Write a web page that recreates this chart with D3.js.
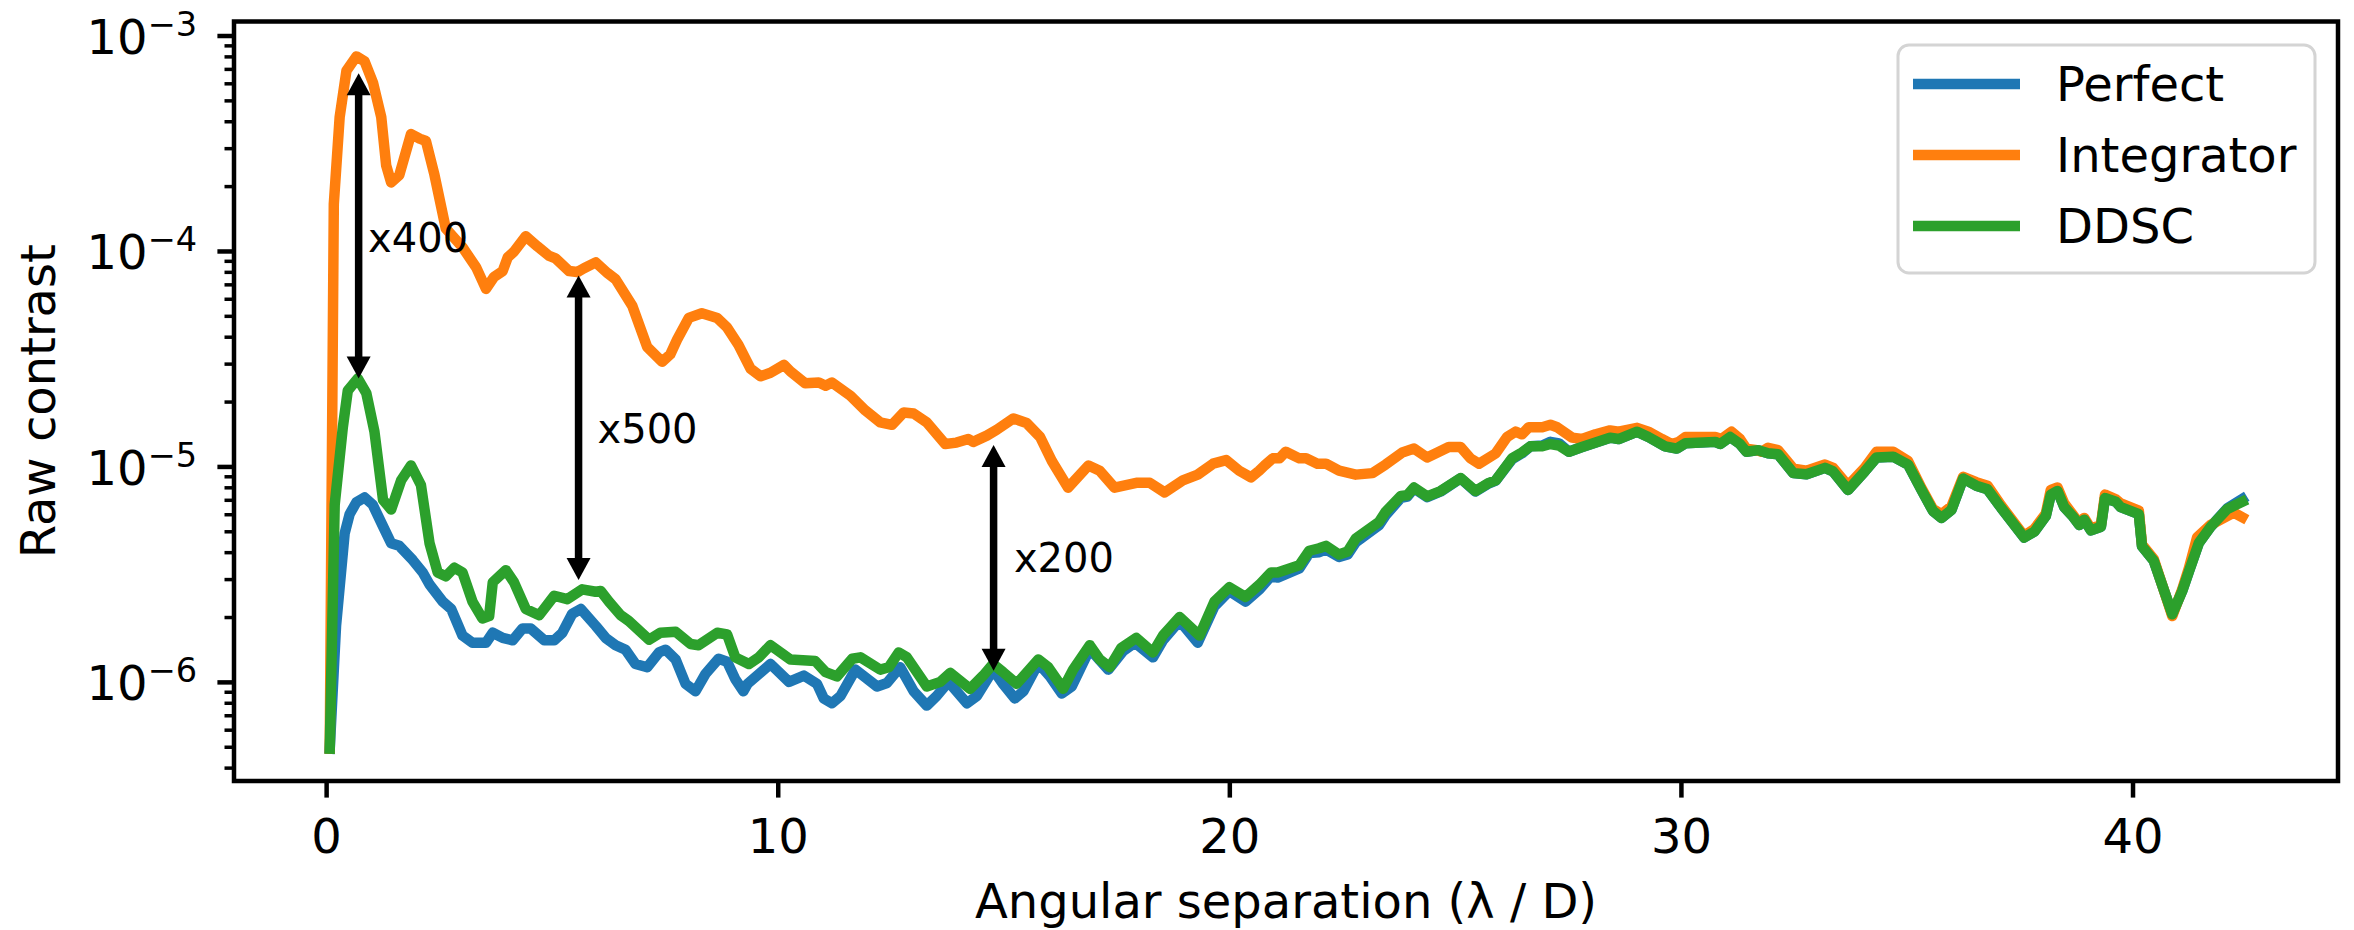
<!DOCTYPE html>
<html>
<head>
<meta charset="utf-8">
<script src="https://cdn.jsdelivr.net/npm/d3@7"></script>
<style>
  html, body { margin: 0; padding: 0; background: #fff; }
  svg { display: block; }
  text { font-family: "DejaVu Sans", sans-serif; fill: #000; }
</style>
</head>
<body>
<svg id="chart" width="2354" height="930"></svg>
<script>
// Raw contrast vs angular separation, [lambda/D, contrast]
const perfect = [
  [0.08,4.9e-7],[0.22,1.82e-6],[0.41,4.88e-6],[0.52,6.0e-6],[0.67,6.82e-6],[0.85,7.18e-6],
  [1.03,6.65e-6],[1.26,5.27e-6],[1.44,4.40e-6],[1.62,4.28e-6],[1.92,3.67e-6],[2.14,3.22e-6],
  [2.29,2.83e-6],[2.58,2.36e-6],[2.77,2.18e-6],[3.02,1.64e-6],[3.24,1.52e-6],[3.54,1.52e-6],
  [3.69,1.69e-6],[3.91,1.60e-6],[4.13,1.56e-6],[4.35,1.77e-6],[4.53,1.77e-6],[4.83,1.56e-6],
  [5.05,1.56e-6],[5.23,1.69e-6],[5.45,2.07e-6],[5.64,2.18e-6],[5.97,1.82e-6],[6.19,1.60e-6],
  [6.41,1.48e-6],[6.63,1.41e-6],[6.85,1.21e-6],[7.11,1.17e-6],[7.37,1.37e-6],[7.52,1.41e-6],
  [7.74,1.27e-6],[7.96,9.79e-7],[8.18,9.05e-7],[8.40,1.09e-6],[8.69,1.28e-6],[8.88,1.24e-6],
  [9.06,1.03e-6],[9.24,9.05e-7],[9.33,9.79e-7],[9.84,1.21e-6],[10.25,1.0e-6],[10.58,1.07e-6],
  [10.87,9.79e-7],[11.02,8.38e-7],[11.20,7.96e-7],[11.39,8.60e-7],[11.72,1.14e-6],[12.20,9.52e-7],
  [12.42,9.88e-7],[12.71,1.17e-6],[13.01,9.05e-7],[13.30,7.76e-7],[13.52,8.60e-7],[13.78,1.0e-6],
  [14.19,7.96e-7],[14.41,8.6e-7],[14.77,1.14e-6],[14.99,9.79e-7],[15.25,8.38e-7],[15.44,9.05e-7],
  [15.77,1.22e-6],[16.03,1.06e-6],[16.29,8.83e-7],[16.51,9.52e-7],[16.91,1.42e-6],[17.32,1.14e-6],
  [17.65,1.39e-6],[17.91,1.52e-6],[18.31,1.30e-6],[18.53,1.56e-6],[18.90,1.92e-6],[19.30,1.52e-6],
  [19.67,2.24e-6],[20.00,2.64e-6],[20.36,2.36e-6],[20.67,2.69e-6],[20.92,3.09e-6],[21.07,3.05e-6],
  [21.55,3.36e-6],[21.77,3.96e-6],[21.99,4.0e-6],[22.14,4.12e-6],[22.43,3.80e-6],[22.62,3.90e-6],
  [22.80,4.44e-6],[23.32,5.35e-6],[23.46,5.93e-6],[23.80,7.15e-6],[23.94,7.25e-6],[24.09,7.9e-6],
  [24.38,7.2e-6],[24.68,7.65e-6],[25.12,8.8e-6],[25.45,7.65e-6],[25.75,8.35e-6],[25.90,8.6e-6],
  [26.26,1.08e-5],[26.48,1.15e-5],[26.67,1.24e-5],[26.93,1.25e-5],[27.11,1.30e-5],[27.30,1.28e-5],
  [27.52,1.17e-5],[27.81,1.23e-5],[28.43,1.36e-5],[28.62,1.34e-5],[29.03,1.45e-5],[29.28,1.37e-5],
  [29.65,1.24e-5],[29.91,1.21e-5],[30.10,1.28e-5],[30.76,1.30e-5],[30.87,1.27e-5],[31.09,1.37e-5],
  [31.31,1.27e-5],[31.45,1.17e-5],[31.71,1.19e-5],[31.93,1.15e-5],[32.15,1.14e-5],[32.49,9.31e-6],
  [32.78,9.2e-6],[33.19,9.85e-6],[33.37,9.48e-6],[33.70,7.78e-6],[34.07,9.48e-6],[34.33,1.10e-5],
  [34.70,1.11e-5],[35.03,1.02e-5],[35.32,7.83e-6],[35.58,6.22e-6],[35.77,5.77e-6],[35.99,6.28e-6],
  [36.25,8.79e-6],[36.54,8.14e-6],[36.79,7.83e-6],[37.09,6.43e-6],[37.60,4.68e-6],[37.83,4.99e-6],
  [38.08,5.89e-6],[38.19,7.40e-6],[38.34,7.69e-6],[38.49,6.47e-6],[38.67,5.89e-6],[38.82,5.35e-6],
  [38.93,5.66e-6],[39.08,5.05e-6],[39.30,5.25e-6],[39.39,7.13e-6],[39.63,6.86e-6],[39.74,6.47e-6],
  [40.14,6.0e-6],[40.21,4.26e-6],[40.47,3.65e-6],[40.88,2.06e-6],[41.10,2.64e-6],[41.25,3.26e-6],
  [41.47,4.42e-6],[41.73,5.25e-6],[42.10,6.4e-6],[42.43,7.06e-6]
];

const integrator = [
  [0.08,4.9e-7],[0.17,1.65e-4],[0.30,4.19e-4],[0.45,6.86e-4],[0.67,8.0e-4],[0.85,7.6e-4],
  [1.04,6.02e-4],[1.22,4.19e-4],[1.33,2.49e-4],[1.44,2.08e-4],[1.62,2.25e-4],[1.88,3.49e-4],
  [2.07,3.32e-4],[2.21,3.24e-4],[2.40,2.25e-4],[2.65,1.27e-4],[3.02,1.04e-4],[3.32,8.41e-5],
  [3.54,6.67e-5],[3.72,7.59e-5],[3.91,8.07e-5],[4.02,9.33e-5],[4.16,9.93e-5],[4.42,1.17e-4],
  [4.68,1.05e-4],[4.94,9.48e-5],[5.08,9.23e-5],[5.38,8.07e-5],[5.56,7.98e-5],[5.71,8.32e-5],
  [5.97,8.85e-5],[6.23,7.9e-5],[6.41,7.39e-5],[6.78,5.56e-5],[7.11,3.58e-5],[7.44,3.06e-5],
  [7.62,3.31e-5],[7.77,3.87e-5],[8.03,4.89e-5],[8.32,5.14e-5],[8.66,4.89e-5],[8.88,4.41e-5],
  [9.13,3.67e-5],[9.40,2.84e-5],[9.62,2.62e-5],[9.84,2.72e-5],[10.14,2.96e-5],[10.28,2.76e-5],
  [10.61,2.43e-5],[10.91,2.45e-5],[11.06,2.37e-5],[11.20,2.45e-5],[11.61,2.13e-5],[11.94,1.82e-5],
  [12.27,1.60e-5],[12.53,1.56e-5],[12.79,1.78e-5],[13.01,1.76e-5],[13.30,1.60e-5],[13.71,1.27e-5],
  [13.96,1.29e-5],[14.22,1.34e-5],[14.33,1.30e-5],[14.63,1.39e-5],[14.85,1.48e-5],[15.22,1.67e-5],
  [15.51,1.59e-5],[15.81,1.37e-5],[16.07,1.06e-5],[16.43,7.97e-6],[16.88,1.01e-5],[17.13,9.55e-6],
  [17.46,7.97e-6],[17.94,8.39e-6],[18.24,8.39e-6],[18.57,7.57e-6],[18.97,8.61e-6],[19.30,9.16e-6],
  [19.64,1.03e-5],[19.93,1.07e-5],[20.22,9.55e-6],[20.48,8.9e-6],[20.66,9.55e-6],[20.78,1.01e-5],
  [20.96,1.09e-5],[21.11,1.09e-5],[21.25,1.17e-5],[21.55,1.09e-5],[21.70,1.09e-5],[21.95,1.03e-5],
  [22.14,1.03e-5],[22.43,9.55e-6],[22.80,9.16e-6],[23.17,9.31e-6],[23.46,1.02e-5],[23.83,1.16e-5],
  [24.09,1.21e-5],[24.38,1.10e-5],[24.61,1.16e-5],[24.86,1.23e-5],[25.12,1.23e-5],[25.34,1.09e-5],
  [25.53,1.03e-5],[25.90,1.15e-5],[26.15,1.37e-5],[26.34,1.45e-5],[26.48,1.41e-5],[26.63,1.52e-5],
  [26.93,1.52e-5],[27.11,1.56e-5],[27.26,1.52e-5],[27.59,1.36e-5],[27.81,1.34e-5],[28.11,1.41e-5],
  [28.43,1.47e-5],[28.62,1.45e-5],[29.03,1.51e-5],[29.28,1.45e-5],[29.58,1.34e-5],[29.80,1.27e-5],
  [29.95,1.30e-5],[30.10,1.37e-5],[30.46,1.37e-5],[30.76,1.37e-5],[30.90,1.34e-5],[31.12,1.45e-5],
  [31.31,1.34e-5],[31.45,1.21e-5],[31.68,1.19e-5],[31.79,1.17e-5],[31.93,1.22e-5],[32.15,1.19e-5],
  [32.49,9.77e-6],[32.78,9.55e-6],[33.19,1.02e-5],[33.37,9.85e-6],[33.70,8.14e-6],[34.07,9.85e-6],
  [34.33,1.17e-5],[34.70,1.17e-5],[35.03,1.06e-5],[35.32,7.98e-6],[35.58,6.35e-6],[35.77,6.0e-6],
  [35.99,6.52e-6],[36.25,8.95e-6],[36.54,8.45e-6],[36.79,8.14e-6],[37.09,6.59e-6],[37.60,4.76e-6],
  [37.83,5.14e-6],[38.08,6.04e-6],[38.19,7.78e-6],[38.34,7.98e-6],[38.49,6.73e-6],[38.67,6.0e-6],
  [38.82,5.44e-6],[38.93,5.77e-6],[39.08,5.14e-6],[39.30,5.35e-6],[39.39,7.40e-6],[39.63,7.03e-6],
  [39.74,6.73e-6],[40.14,6.23e-6],[40.21,4.34e-6],[40.47,3.72e-6],[40.88,2.02e-6],[41.10,2.69e-6],
  [41.25,3.38e-6],[41.43,4.68e-6],[41.73,5.35e-6],[42.24,6.11e-6],[42.43,5.81e-6]
];

const ddsc = [
  [0.08,4.9e-7],[0.19,6.65e-6],[0.37,1.52e-5],[0.48,2.25e-5],[0.70,2.56e-5],[0.89,2.19e-5],
  [1.07,1.45e-5],[1.26,7.0e-6],[1.44,6.31e-6],[1.66,8.61e-6],[1.88,1.01e-5],[2.10,8.18e-6],
  [2.29,4.40e-6],[2.47,3.22e-6],[2.65,3.09e-6],[2.84,3.39e-6],[3.02,3.22e-6],[3.24,2.36e-6],
  [3.46,1.97e-6],[3.61,2.02e-6],[3.69,2.90e-6],[3.98,3.30e-6],[4.16,2.90e-6],[4.42,2.18e-6],
  [4.72,2.04e-6],[5.05,2.51e-6],[5.34,2.42e-6],[5.67,2.69e-6],[5.97,2.62e-6],[6.08,2.64e-6],
  [6.26,2.36e-6],[6.52,2.04e-6],[6.70,1.92e-6],[7.15,1.57e-6],[7.40,1.69e-6],[7.74,1.71e-6],
  [8.07,1.50e-6],[8.25,1.48e-6],[8.66,1.69e-6],[8.88,1.66e-6],[9.06,1.30e-6],[9.36,1.21e-6],
  [9.58,1.30e-6],[9.84,1.48e-6],[10.28,1.27e-6],[10.83,1.25e-6],[11.06,1.11e-6],[11.31,1.06e-6],
  [11.65,1.28e-6],[11.83,1.30e-6],[12.27,1.14e-6],[12.46,1.17e-6],[12.68,1.37e-6],[12.86,1.30e-6],
  [13.30,9.52e-7],[13.60,1.0e-6],[13.82,1.10e-6],[14.26,9.29e-7],[14.55,1.07e-6],[14.77,1.21e-6],
  [14.99,1.11e-6],[15.29,9.79e-7],[15.77,1.27e-6],[15.99,1.17e-6],[16.32,9.29e-7],[16.54,1.14e-6],
  [16.91,1.48e-6],[17.13,1.27e-6],[17.35,1.17e-6],[17.61,1.44e-6],[17.94,1.60e-6],[18.31,1.37e-6],
  [18.53,1.64e-6],[18.90,2.0e-6],[19.34,1.64e-6],[19.67,2.36e-6],[20.00,2.75e-6],[20.36,2.48e-6],
  [20.67,2.83e-6],[20.92,3.22e-6],[21.07,3.22e-6],[21.55,3.48e-6],[21.77,4.06e-6],[21.99,4.17e-6],
  [22.14,4.28e-6],[22.43,3.90e-6],[22.62,4.03e-6],[22.80,4.63e-6],[23.32,5.54e-6],[23.46,6.15e-6],
  [23.80,7.30e-6],[23.94,7.35e-6],[24.09,7.98e-6],[24.38,7.26e-6],[24.68,7.69e-6],[25.12,8.83e-6],
  [25.45,7.69e-6],[25.75,8.39e-6],[25.90,8.61e-6],[26.26,1.09e-5],[26.48,1.16e-5],[26.67,1.24e-5],
  [26.93,1.24e-5],[27.11,1.27e-5],[27.30,1.25e-5],[27.52,1.17e-5],[27.81,1.23e-5],[28.43,1.36e-5],
  [28.62,1.34e-5],[29.03,1.45e-5],[29.28,1.37e-5],[29.65,1.24e-5],[29.91,1.21e-5],[30.10,1.28e-5],
  [30.76,1.30e-5],[30.87,1.27e-5],[31.09,1.37e-5],[31.31,1.27e-5],[31.45,1.17e-5],[31.71,1.19e-5],
  [31.93,1.15e-5],[32.15,1.14e-5],[32.49,9.31e-6],[32.78,9.2e-6],[33.19,9.85e-6],[33.37,9.48e-6],
  [33.70,7.78e-6],[34.07,9.48e-6],[34.33,1.10e-5],[34.70,1.11e-5],[35.03,1.02e-5],[35.32,7.83e-6],
  [35.58,6.22e-6],[35.77,5.77e-6],[35.99,6.28e-6],[36.25,8.79e-6],[36.54,8.14e-6],[36.79,7.83e-6],
  [37.09,6.43e-6],[37.60,4.68e-6],[37.83,4.99e-6],[38.08,5.89e-6],[38.19,7.40e-6],[38.34,7.69e-6],
  [38.49,6.47e-6],[38.67,5.89e-6],[38.82,5.35e-6],[38.93,5.66e-6],[39.08,5.05e-6],[39.30,5.25e-6],
  [39.39,7.13e-6],[39.63,6.86e-6],[39.74,6.47e-6],[40.14,6.0e-6],[40.21,4.26e-6],[40.47,3.65e-6],
  [40.88,2.06e-6],[41.10,2.64e-6],[41.25,3.26e-6],[41.47,4.42e-6],[41.73,5.25e-6],[42.10,6.35e-6],
  [42.43,6.86e-6]
];

const seriesNames = ["Perfect", "Integrator", "DDSC"];
const seriesColors = ["#1f77b4", "#ff7f0e", "#2ca02c"];
const xTicks = [0, 10, 20, 30, 40];
const yTicks = [1e-6, 1e-5, 1e-4, 1e-3];

// Contrast gain markers: separation, lower and upper contrast, label anchor
const gainLabels = ["x400", "x500", "x200"];
const gainX = [0.72, 5.59, 14.78];
const gainLow = [2.56e-5, 2.97e-6, 1.125e-6];
const gainHigh = [6.68e-4, 7.70e-5, 1.258e-5];
const gainTextX = [0.93, 6.01, 15.23];
const gainTextY = [9.9e-5, 1.28e-5, 3.22e-6];

const svg = d3.select("#chart");
const box = { left: 234, right: 2338, top: 21.5, bottom: 781 };
const FONT = 48;
const LINE_W = 10.5;

const x = d3.scaleLinear().domain([-2.04, 44.55]).range([box.left, box.right]);
const y = d3.scaleLog().domain([Math.pow(10, -6.46), Math.pow(10, -2.935)]).range([box.bottom, box.top]);

svg.append("rect").attr("width", 2354).attr("height", 930).attr("fill", "#fff");

svg.append("clipPath").attr("id", "plotclip")
  .append("rect")
  .attr("x", box.left).attr("y", box.top)
  .attr("width", box.right - box.left).attr("height", box.bottom - box.top);

// Curves
const line = d3.line().x(d => x(d[0])).y(d => y(d[1]));
const allSeries = [perfect, integrator, ddsc];
const curves = svg.append("g").attr("clip-path", "url(#plotclip)");
allSeries.forEach((s, i) => {
  curves.append("path")
    .datum(s)
    .attr("d", line)
    .attr("fill", "none")
    .attr("stroke", seriesColors[i])
    .attr("stroke-width", LINE_W)
    .attr("stroke-linejoin", "round")
    .attr("stroke-linecap", "square");
});

// Double-headed gain arrows
const arrows = svg.append("g");
const headLen = 22, headHalf = 12, shaft = 7.5;
gainLabels.forEach((lab, i) => {
  const ax = x(gainX[i]);
  const yTop = y(gainHigh[i]);
  const yBot = y(gainLow[i]);
  arrows.append("line")
    .attr("x1", ax).attr("x2", ax)
    .attr("y1", yTop + headLen - 2).attr("y2", yBot - headLen + 2)
    .attr("stroke", "#000").attr("stroke-width", shaft);
  arrows.append("path")
    .attr("d", `M${ax},${yTop} L${ax - headHalf},${yTop + headLen} L${ax + headHalf},${yTop + headLen} Z`)
    .attr("fill", "#000");
  arrows.append("path")
    .attr("d", `M${ax},${yBot} L${ax - headHalf},${yBot - headLen} L${ax + headHalf},${yBot - headLen} Z`)
    .attr("fill", "#000");
  arrows.append("text")
    .attr("x", x(gainTextX[i]))
    .attr("y", y(gainTextY[i]))
    .attr("font-size", 40)
    .text(lab);
});

// X axis
const gx = svg.append("g")
  .attr("transform", `translate(0,${box.bottom})`)
  .call(d3.axisBottom(x).tickValues(xTicks).tickSize(16.6).tickFormat(d3.format("d")));
gx.attr("font-family", null).attr("font-size", null);
gx.select(".domain").remove();
gx.selectAll(".tick line").attr("stroke", "#000").attr("stroke-width", 4.5);
gx.selectAll(".tick text")
  .attr("y", 72.3).attr("dy", null)
  .attr("font-size", FONT).attr("fill", "#000");

// Y axis, major ticks with power-of-ten labels
const gy = svg.append("g")
  .attr("transform", `translate(${box.left},0)`)
  .call(d3.axisLeft(y).tickValues(yTicks).tickSize(16.6).tickFormat(""));
gy.attr("font-family", null).attr("font-size", null);
gy.select(".domain").remove();
gy.selectAll(".tick line").attr("stroke", "#000").attr("stroke-width", 4.5);
gy.selectAll(".tick text").remove();
gy.selectAll(".tick").each(function(d) {
  const e = Math.round(Math.log10(d));
  const t = d3.select(this).append("text")
    .attr("x", -37).attr("y", 18)
    .attr("text-anchor", "end")
    .attr("font-size", FONT);
  t.append("tspan").text("10");
  t.append("tspan").attr("dy", -18).attr("font-size", FONT * 0.7).text("\u2212" + Math.abs(e));
});

// Y axis minor ticks
const [yMin, yMax] = y.domain();
const minorVals = [];
for (let k = -7; k <= -3; k++) {
  for (let m = 2; m <= 9; m++) {
    const v = m * Math.pow(10, k);
    if (v >= yMin && v <= yMax) minorVals.push(v);
  }
}
const gyMinor = svg.append("g")
  .attr("transform", `translate(${box.left},0)`)
  .call(d3.axisLeft(y).tickValues(minorVals).tickSize(9.5).tickFormat(""));
gyMinor.select(".domain").remove();
gyMinor.selectAll(".tick line").attr("stroke", "#000").attr("stroke-width", 3.5);
gyMinor.selectAll(".tick text").remove();

// Frame
svg.append("rect")
  .attr("x", box.left).attr("y", box.top)
  .attr("width", box.right - box.left).attr("height", box.bottom - box.top)
  .attr("fill", "none").attr("stroke", "#000").attr("stroke-width", 4.5);

// Axis titles
svg.append("text")
  .attr("x", (box.left + box.right) / 2).attr("y", 918)
  .attr("text-anchor", "middle").attr("font-size", FONT)
  .text("Angular separation (\u03BB / D)");

svg.append("text")
  .attr("transform", `translate(55,${(box.top + box.bottom) / 2}) rotate(-90)`)
  .attr("text-anchor", "middle").attr("font-size", FONT)
  .text("Raw contrast");

// Legend
const lg = svg.append("g");
lg.append("rect")
  .attr("x", 1898).attr("y", 45).attr("width", 417).attr("height", 228)
  .attr("rx", 11).attr("ry", 11)
  .attr("fill", "#fff").attr("fill-opacity", 0.8)
  .attr("stroke", "#d4d4d4").attr("stroke-width", 3);
seriesNames.forEach((name, i) => {
  const ly = 84 + i * 71;
  lg.append("line")
    .attr("x1", 1913).attr("x2", 2020).attr("y1", ly).attr("y2", ly)
    .attr("stroke", seriesColors[i]).attr("stroke-width", LINE_W)
    .attr("stroke-linecap", "butt");
  lg.append("text")
    .attr("x", 2056).attr("y", ly + FONT * 0.36)
    .attr("font-size", FONT)
    .text(name);
});
</script>
</body>
</html>
